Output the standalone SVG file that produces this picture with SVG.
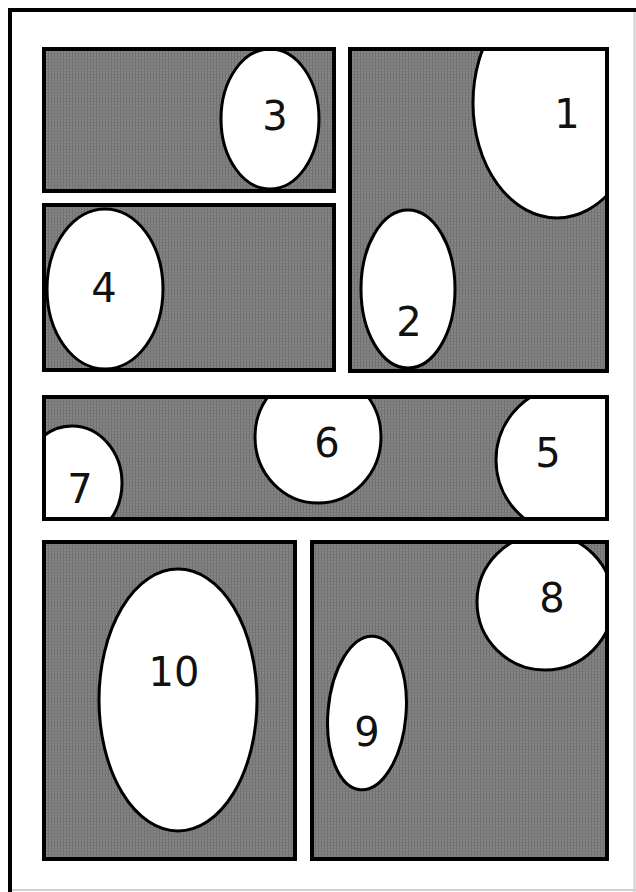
<svg xmlns="http://www.w3.org/2000/svg" width="636" height="892" viewBox="0 0 636 892">
<defs>
<pattern id="tex" width="3" height="3" patternUnits="userSpaceOnUse">
<rect width="3" height="3" fill="#858585"/>
<rect x="0" y="0" width="1" height="3" fill="#6e6e6e"/>
<rect x="0" y="2" width="3" height="1" fill="#777"/>
</pattern>
<clipPath id="c3"><rect x="44" y="49" width="290" height="142"/></clipPath>
<clipPath id="c4"><rect x="44" y="205" width="290" height="165"/></clipPath>
<clipPath id="c1"><rect x="350" y="49" width="257" height="322"/></clipPath>
<clipPath id="c5"><rect x="44" y="397" width="563" height="122"/></clipPath>
<clipPath id="c10"><rect x="44" y="542" width="251" height="317"/></clipPath>
<clipPath id="c8"><rect x="312" y="542" width="295" height="317"/></clipPath>
</defs>
<style>
.panel{fill:url(#tex);}
.frame{fill:none;stroke:#000;stroke-width:4;}
.bal{fill:#fff;stroke:#000;stroke-width:3;}
.num{font-family:"DejaVu Sans",sans-serif;font-size:40px;fill:#111;text-anchor:middle;}
</style>
<rect width="636" height="892" fill="#fff"/>
<g id="page">
<line x1="634.5" y1="8" x2="634.5" y2="892" stroke="#d0d0d0" stroke-width="2"/>
<line x1="8" y1="890" x2="636" y2="890" stroke="#d0d0d0" stroke-width="2"/>
<line x1="8" y1="10" x2="636" y2="10" stroke="#000" stroke-width="4"/>
<line x1="10" y1="8" x2="10" y2="892" stroke="#000" stroke-width="4"/>
</g>
<g id="panel-3">
<rect class="panel" x="44" y="49" width="290" height="142"/>
<g clip-path="url(#c3)"><ellipse class="bal" cx="270" cy="119" rx="49" ry="70"/></g>
<rect class="frame" x="44" y="49" width="290" height="142"/>
<text class="num" x="275" y="130">3</text>
</g>
<g id="panel-4">
<rect class="panel" x="44" y="205" width="290" height="165"/>
<g clip-path="url(#c4)"><ellipse class="bal" cx="105" cy="289" rx="58" ry="80"/></g>
<rect class="frame" x="44" y="205" width="290" height="165"/>
<text class="num" x="104" y="302">4</text>
</g>
<g id="panel-1-2">
<rect class="panel" x="350" y="49" width="257" height="322"/>
<g clip-path="url(#c1)">
<ellipse class="bal" cx="557" cy="103" rx="84" ry="115"/>
<ellipse class="bal" cx="408" cy="289" rx="47" ry="79"/>
</g>
<rect class="frame" x="350" y="49" width="257" height="322"/>
<text class="num" x="567" y="128">1</text>
<text class="num" x="409" y="336">2</text>
</g>
<g id="panel-5-6-7">
<rect class="panel" x="44" y="397" width="563" height="122"/>
<g clip-path="url(#c5)">
<ellipse class="bal" cx="318" cy="437" rx="63" ry="66"/>
<ellipse class="bal" cx="572" cy="460" rx="76" ry="75"/>
<ellipse class="bal" cx="72" cy="483" rx="50" ry="57"/>
</g>
<rect class="frame" x="44" y="397" width="563" height="122"/>
<text class="num" x="327" y="457">6</text>
<text class="num" x="548" y="467">5</text>
<text class="num" x="80" y="503">7</text>
</g>
<g id="panel-10">
<rect class="panel" x="44" y="542" width="251" height="317"/>
<g clip-path="url(#c10)"><ellipse class="bal" cx="178" cy="700" rx="79" ry="131"/></g>
<rect class="frame" x="44" y="542" width="251" height="317"/>
<text class="num" x="174" y="686">10</text>
</g>
<g id="panel-8-9">
<rect class="panel" x="312" y="542" width="295" height="317"/>
<g clip-path="url(#c8)">
<ellipse class="bal" cx="545" cy="602" rx="68" ry="68"/>
<ellipse class="bal" cx="367" cy="713" rx="39" ry="77" transform="rotate(5 367 713)"/>
</g>
<rect class="frame" x="312" y="542" width="295" height="317"/>
<text class="num" x="552" y="612">8</text>
<text class="num" x="367" y="746">9</text>
</g>
</svg>
